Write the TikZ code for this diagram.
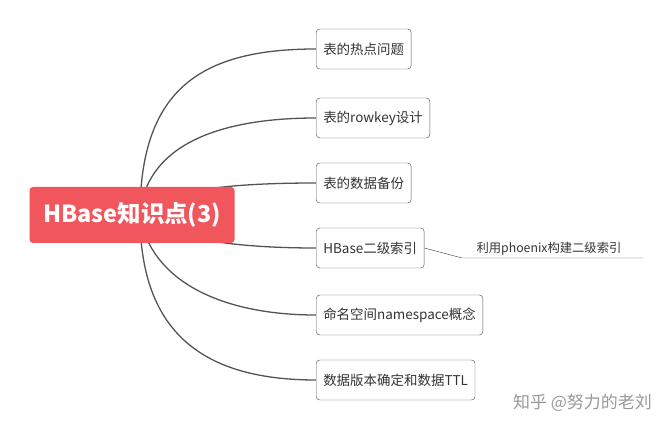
\documentclass[tikz,border=0pt]{standalone}
\usepackage{fontspec}
\setmainfont{Noto Sans CJK SC}
\usetikzlibrary{backgrounds}
\definecolor{rootred}{RGB}{240,86,92}
\begin{document}
\begin{tikzpicture}[
        x=0.03cm, y=-0.03cm,
        every node/.style={font=\fontsize{11.5}{14}\selectfont},
        root/.style={fill=rootred, rounded corners=3pt, text=white, font=\fontsize{20}{24}\selectfont\bfseries, minimum width=205*0.03cm, minimum height=56*0.03cm},
        topic/.style={draw=gray!70!black, rounded corners=3pt, fill=white, text=black!80, anchor=west, minimum height=40*0.03cm, inner xsep=6pt},
        link/.style={draw=gray!65!black, line width=1.1pt}
    ]
    \useasboundingbox (0,0) rectangle (672,430);

    % Root
    \node[root] (root) at (132,215) {HBase知识点(3)};
    \coordinate (hub) at (140,215);

    % Topics
    \node[topic] (t1) at (316,49) {表的热点问题};
    \node[topic] (t2) at (316,118) {表的rowkey设计};
    \node[topic] (t3) at (316,183) {表的数据备份};
    \node[topic] (t4) at (316,248) {HBase二级索引};
    \node[topic] (t5) at (316,315) {命名空间namespace概念};
    \node[topic] (t6) at (316,380) {数据版本确定和数据TTL};

    % Links root -> topics
    \begin{scope}[on background layer]
    \draw[link] (hub) .. controls (140,90) and (200,49) .. (t1.west);
    \draw[link] (hub) .. controls (145,150) and (210,118) .. (t2.west);
    \draw[link] (hub) .. controls (160,190) and (230,183) .. (t3.west);
    \draw[link] (hub) .. controls (170,240) and (240,248) .. (t4.west);
    \draw[link] (hub) .. controls (150,280) and (220,315) .. (t5.west);
    \draw[link] (hub) .. controls (140,330) and (200,380) .. (t6.west);
    \end{scope}

    % Sub topic
    \node[anchor=south west, text=black!80, inner sep=2pt, font=\fontsize{10.5}{12}\selectfont] (s1) at (474,258) {利用phoenix构建二级索引};
    \coordinate (s1a) at (462,258);
    \coordinate (s1b) at (643,258);
    \draw[gray!60!black] (t4.east) -- (s1a) -- (s1b);

    % Watermark
    \node[anchor=east, text=gray!80, font=\fontsize{14.5}{17}\selectfont] (wm) at (656,403) {知乎 @努力的老刘};
\end{tikzpicture}
\end{document}
